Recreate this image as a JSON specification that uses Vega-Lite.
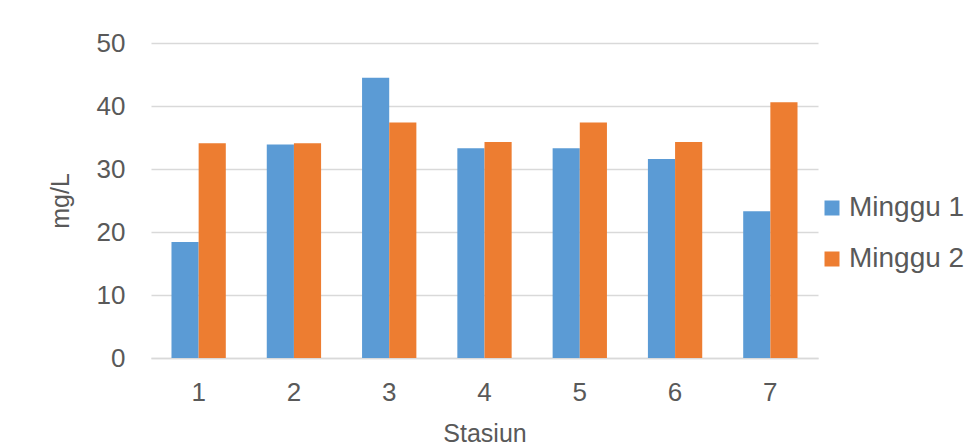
{
  "$schema": "https://vega.github.io/schema/vega-lite/v6.json",
  "width": 667,
  "height": 315,
  "autosize": {"type": "none"},
  "padding": {"left": 151, "top": 43, "right": 148, "bottom": 87},
  "background": "white",
  "data": {
    "values": [
      {"stasiun": "1", "minggu": "Minggu 1", "nilai": 18.4},
      {"stasiun": "1", "minggu": "Minggu 2", "nilai": 34.1},
      {"stasiun": "2", "minggu": "Minggu 1", "nilai": 33.9},
      {"stasiun": "2", "minggu": "Minggu 2", "nilai": 34.1},
      {"stasiun": "3", "minggu": "Minggu 1", "nilai": 44.5},
      {"stasiun": "3", "minggu": "Minggu 2", "nilai": 37.4},
      {"stasiun": "4", "minggu": "Minggu 1", "nilai": 33.3},
      {"stasiun": "4", "minggu": "Minggu 2", "nilai": 34.3},
      {"stasiun": "5", "minggu": "Minggu 1", "nilai": 33.3},
      {"stasiun": "5", "minggu": "Minggu 2", "nilai": 37.4},
      {"stasiun": "6", "minggu": "Minggu 1", "nilai": 31.6},
      {"stasiun": "6", "minggu": "Minggu 2", "nilai": 34.3},
      {"stasiun": "7", "minggu": "Minggu 1", "nilai": 23.3},
      {"stasiun": "7", "minggu": "Minggu 2", "nilai": 40.6}
    ]
  },
  "mark": {"type": "bar"},
  "encoding": {
    "x": {
      "field": "stasiun",
      "type": "nominal",
      "scale": {"paddingInner": 0.43, "paddingOuter": 0.215},
      "axis": {
        "title": "Stasiun",
        "labelAngle": 0,
        "ticks": false,
        "domain": true,
        "domainColor": "#d9d9d9",
        "domainWidth": 1.5,
        "labelPadding": 21,
        "titlePadding": 16
      }
    },
    "xOffset": {"field": "minggu", "type": "nominal", "scale": {"paddingInner": 0, "paddingOuter": 0}},
    "y": {
      "field": "nilai",
      "type": "quantitative",
      "scale": {"domain": [0, 50], "nice": false},
      "axis": {
        "title": "mg/L",
        "values": [0, 10, 20, 30, 40, 50],
        "ticks": false,
        "domain": false,
        "labelPadding": 26,
        "titlePadding": 23,
        "gridColor": "#d9d9d9",
        "gridWidth": 1.5
      }
    },
    "color": {
      "field": "minggu",
      "type": "nominal",
      "scale": {"domain": ["Minggu 1", "Minggu 2"], "range": ["#5B9BD5", "#ED7D31"]},
      "legend": {
        "title": null,
        "orient": "none",
        "legendX": 667,
        "legendY": 151,
        "symbolType": "square",
        "symbolSize": 225,
        "symbolStrokeWidth": 0,
        "labelFontSize": 28,
        "labelColor": "#595959",
        "labelFont": "Liberation Sans",
        "rowPadding": 23,
        "labelOffset": 3
      }
    }
  },
  "config": {
    "view": {"stroke": null},
    "font": "Liberation Sans",
    "axis": {
      "labelFont": "Liberation Sans",
      "titleFont": "Liberation Sans",
      "labelFontSize": 26,
      "titleFontSize": 25,
      "labelColor": "#595959",
      "titleColor": "#595959",
      "titleFontWeight": "normal"
    }
  }
}
